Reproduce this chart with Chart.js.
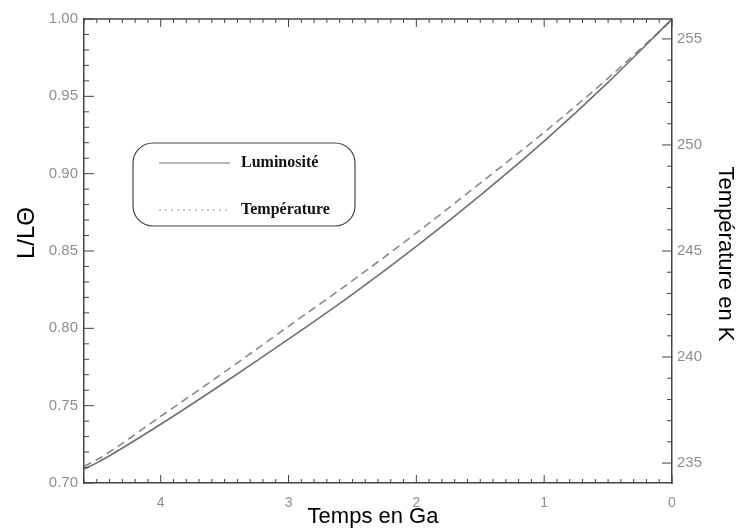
<!DOCTYPE html>
<html>
<head>
<meta charset="utf-8">
<script src="https://cdn.jsdelivr.net/npm/chart.js@4.4.1/dist/chart.umd.min.js"></script>
<style>
html, body { margin: 0; padding: 0; background: #fff; }
</style>
</head>
<body>
<canvas id="myChart" width="737" height="532"></canvas>
<script>
// temps en Ga (avant aujourd'hui)
const temps = [4.6, 4.5, 4.0, 3.5, 3.0, 2.5, 2.0, 1.5, 1.0, 0.5, 0];
// L / L soleil
const luminosite = [0.709, 0.713, 0.738, 0.765, 0.793, 0.822, 0.853, 0.886, 0.921, 0.959, 1.000];
// temperature en K
const temperature = [234.85, 235.15, 237.2, 239.3, 241.45, 243.6, 245.85, 248.2, 250.6, 253.15, 255.9];

const xTicks = [4, 3, 2, 1, 0];
const lTicks = [0.70, 0.75, 0.80, 0.85, 0.90, 0.95, 1.00];
const kTicks = [235, 240, 245, 250, 255];

const tickFont = { family: 'Liberation Sans', size: 15 };
const tickColor = '#8f8f8f';

const cadre = {
    id: 'cadre',
    afterDraw(chart) {
        const { ctx, chartArea: a, scales } = chart;
        const line = (x1, y1, x2, y2) => {
            ctx.beginPath(); ctx.moveTo(x1, y1); ctx.lineTo(x2, y2); ctx.stroke();
        };
        ctx.save();
        ctx.strokeStyle = '#444';
        ctx.lineWidth = 1.5;
        line(a.left, a.top, a.right, a.top);

        // petites graduations vers l'interieur
        ctx.lineWidth = 1;
        for (let k = 0; k <= 46; k++) {
            const px = scales.x.getPixelForValue(k / 10);
            const len = k % 10 === 0 ? 8 : 4;
            line(px, a.bottom, px, a.bottom - len);
            line(px, a.top, px, a.top + len);
        }
        for (let k = 70; k <= 100; k++) {
            const py = scales.y.getPixelForValue(k / 100);
            line(a.left, py, a.left + (k % 5 === 0 ? 10 : 5), py);
        }
        for (let k = 235; k <= 255; k++) {
            const py = scales.y2.getPixelForValue(k);
            line(a.right, py, a.right - (k % 5 === 0 ? 10 : 5), py);
        }

        // legende
        const bx = 133, by = 143, bw = 222, bh = 83, r = 20;
        ctx.strokeStyle = '#444';
        ctx.lineWidth = 1.2;
        ctx.beginPath();
        ctx.moveTo(bx + r, by);
        ctx.arcTo(bx + bw, by, bx + bw, by + bh, r);
        ctx.arcTo(bx + bw, by + bh, bx, by + bh, r);
        ctx.arcTo(bx, by + bh, bx, by, r);
        ctx.arcTo(bx, by, bx + bw, by, r);
        ctx.closePath();
        ctx.stroke();

        const ds = chart.data.datasets;
        ctx.lineWidth = 1.2;
        ctx.strokeStyle = '#777';
        line(159, 163, 230, 163);
        ctx.setLineDash([2, 4]);
        ctx.strokeStyle = '#999';
        line(159, 210, 230, 210);
        ctx.setLineDash([]);
        ctx.fillStyle = '#111';
        ctx.font = 'bold 16px "Liberation Serif"';
        ctx.textAlign = 'left';
        ctx.textBaseline = 'middle';
        ctx.fillText(ds[0].label, 241, 163);
        ctx.fillText(ds[1].label, 241, 210);

        // titres des axes
        ctx.font = '22px "Liberation Sans"';
        ctx.fillStyle = '#000';
        ctx.textAlign = 'center';
        ctx.fillText('Temps en Ga', 373, 517);
        ctx.save();
        ctx.translate(27, 233);
        ctx.rotate(-Math.PI / 2);
        ctx.font = '24px "Liberation Sans"';
        ctx.fillText('L/LΘ', 0, 0);
        ctx.restore();
        ctx.save();
        ctx.translate(725, 254);
        ctx.rotate(Math.PI / 2);
        ctx.fillText('Température en K', 0, 0);
        ctx.restore();
        ctx.restore();
    }
};

const ctx = document.getElementById('myChart').getContext('2d');
const myChart = new Chart(ctx, {
    type: 'line',
    data: {
        datasets: [{
            label: 'Luminosité',
            data: temps.map((t, i) => ({ x: t, y: luminosite[i] })),
            yAxisID: 'y',
            borderColor: '#707070',
            borderWidth: 1.6,
            pointRadius: 0,
            cubicInterpolationMode: 'monotone'
        }, {
            label: 'Température',
            data: temps.map((t, i) => ({ x: t, y: temperature[i] })),
            yAxisID: 'y2',
            borderColor: '#8a8a8a',
            borderWidth: 1.6,
            borderDash: [8, 5],
            pointRadius: 0,
            cubicInterpolationMode: 'monotone'
        }]
    },
    options: {
        responsive: false,
        animation: false,
        devicePixelRatio: 1,
        layout: { padding: { top: 19, left: 0, right: 0, bottom: 0 } },
        plugins: { legend: { display: false }, tooltip: { enabled: false } },
        scales: {
            x: {
                type: 'linear',
                min: 0,
                max: 4.6,
                reverse: true,
                grid: { display: false, drawTicks: false },
                border: { display: true, color: '#444', width: 1.5 },
                ticks: { color: tickColor, font: { family: 'Liberation Sans', size: 14 }, padding: 12, maxRotation: 0 },
                afterBuildTicks: s => { s.ticks = xTicks.map(v => ({ value: v })); },
                afterFit: s => { s.height = 49; }
            },
            y: {
                position: 'left',
                min: 0.70,
                max: 1.00,
                grid: { display: false, drawTicks: false },
                border: { display: true, color: '#444', width: 1.5 },
                ticks: { color: tickColor, font: tickFont, padding: 6, callback: v => v.toFixed(2) },
                afterBuildTicks: s => { s.ticks = lTicks.map(v => ({ value: v })); },
                afterFit: s => { s.width = 84; }
            },
            y2: {
                position: 'right',
                min: 234.06,
                max: 255.94,
                grid: { display: false, drawTicks: false },
                border: { display: true, color: '#444', width: 1.5 },
                ticks: { color: tickColor, font: tickFont, padding: 5 },
                afterBuildTicks: s => { s.ticks = kTicks.map(v => ({ value: v })); },
                afterFit: s => { s.width = 65; }
            }
        }
    },
    plugins: [cadre]
});
</script>
</body>
</html>
